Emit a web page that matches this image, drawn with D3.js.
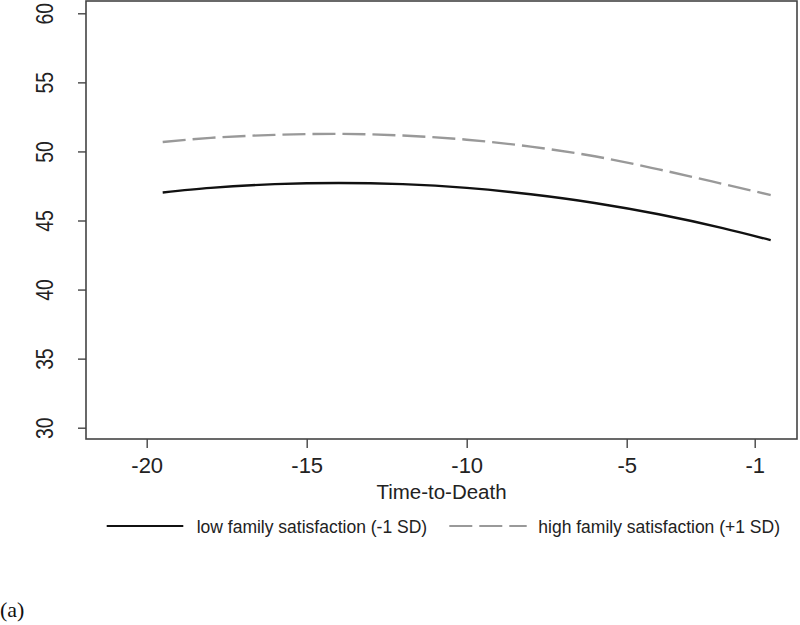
<!DOCTYPE html>
<html>
<head>
<meta charset="utf-8">
<script src="https://cdn.jsdelivr.net/npm/d3@7"></script>
<style>
  html, body { margin: 0; padding: 0; background: #fff; }
  svg { display: block; }
</style>
</head>
<body>
<svg id="chart" width="800" height="625"></svg>
<script>
// ---- data ----
const timeToDeath = [-19.5, -18, -16, -14, -12, -10, -8, -6, -4, -2, -0.5];
const lowFamily   = [47.03, 47.36, 47.63, 47.72, 47.63, 47.36, 46.90, 46.27, 45.45, 44.45, 43.58];
const highFamily  = [50.68, 50.98, 51.20, 51.27, 51.15, 50.85, 50.35, 49.65, 48.70, 47.65, 46.84];
const xTicks = [-20, -15, -10, -5, -1];
const yTicks = [30, 35, 40, 45, 50, 55, 60];
const seriesNames = ["low family satisfaction (-1 SD)", "high family satisfaction (+1 SD)"];
const xTitle = "Time-to-Death";
const panelLabel = "(a)";

// ---- layout ----
const svg = d3.select("#chart");
const box = { left: 86, right: 797, top: 1, bottom: 439 };

const x = d3.scaleLinear().domain([-20, -1]).range([146.7, 754.7]);
const y = d3.scaleLinear().domain([30, 60]).range([427.7, 13.3]);

const axisColor = "#444";
const sans = "'Liberation Sans', Arial, sans-serif";
const fmt = d => String(d);

// plot box
svg.append("rect")
  .attr("x", box.left).attr("y", box.top)
  .attr("width", box.right - box.left).attr("height", box.bottom - box.top)
  .attr("fill", "none").attr("stroke", axisColor).attr("stroke-width", 1.6);

// y axis
const yAxis = d3.axisLeft(y).tickValues(yTicks).tickSize(8).tickPadding(0).tickFormat(fmt);
const gy = svg.append("g").attr("transform", `translate(${box.left},0)`).call(yAxis);
gy.select(".domain").remove();
gy.selectAll(".tick line").attr("stroke", axisColor).attr("stroke-width", 1.4);
gy.selectAll(".tick text")
  .attr("x", 0).attr("y", 0).attr("dy", null)
  .attr("text-anchor", "middle")
  .attr("transform", "translate(-33,0) rotate(-90) scale(0.84,1)")
  .attr("font-family", sans)
  .attr("font-size", 23).attr("fill", "#222");

// x axis
const xAxis = d3.axisBottom(x).tickValues(xTicks).tickSize(9).tickPadding(0).tickFormat(fmt);
const gx = svg.append("g").attr("transform", `translate(0,${box.bottom})`).call(xAxis);
gx.select(".domain").remove();
gx.selectAll(".tick line").attr("stroke", axisColor).attr("stroke-width", 1.4);
gx.selectAll(".tick text")
  .attr("y", 34).attr("dy", null)
  .attr("font-family", sans)
  .attr("font-size", 22).attr("fill", "#222");

// x title
svg.append("text")
  .attr("x", (box.left + box.right) / 2).attr("y", 499)
  .attr("text-anchor", "middle")
  .attr("font-family", sans)
  .attr("font-size", 20.5).attr("fill", "#222")
  .text(xTitle);

// lines
const line = d3.line()
  .x(d => x(d[0])).y(d => y(d[1]))
  .curve(d3.curveMonotoneX);

const lowData = timeToDeath.map((t, i) => [t, lowFamily[i]]);
const highData = timeToDeath.map((t, i) => [t, highFamily[i]]);

svg.append("path").datum(highData)
  .attr("d", line).attr("fill", "none")
  .attr("stroke", "#999").attr("stroke-width", 2.4)
  .attr("stroke-dasharray", "23,7");

svg.append("path").datum(lowData)
  .attr("d", line).attr("fill", "none")
  .attr("stroke", "#111").attr("stroke-width", 2.4);

// legend
const lg = svg.append("g");
lg.append("line").attr("x1", 106.7).attr("x2", 183.3).attr("y1", 526).attr("y2", 526)
  .attr("stroke", "#111").attr("stroke-width", 2.2);
lg.append("text").attr("x", 196.7).attr("y", 533)
  .attr("font-family", sans).attr("font-size", 17.5).attr("fill", "#222")
  .text(seriesNames[0]);
lg.append("line").attr("x1", 449.3).attr("x2", 526.7).attr("y1", 526).attr("y2", 526)
  .attr("stroke", "#999").attr("stroke-width", 2.2).attr("stroke-dasharray", "23,7");
lg.append("text").attr("x", 538.3).attr("y", 533)
  .attr("font-family", sans).attr("font-size", 17.5).attr("fill", "#222")
  .text(seriesNames[1]);

// panel label
svg.append("text").attr("x", 0).attr("y", 617)
  .attr("font-family", "'Liberation Serif', 'Times New Roman', serif").attr("font-size", 22).attr("fill", "#111")
  .text(panelLabel);
</script>
</body>
</html>
